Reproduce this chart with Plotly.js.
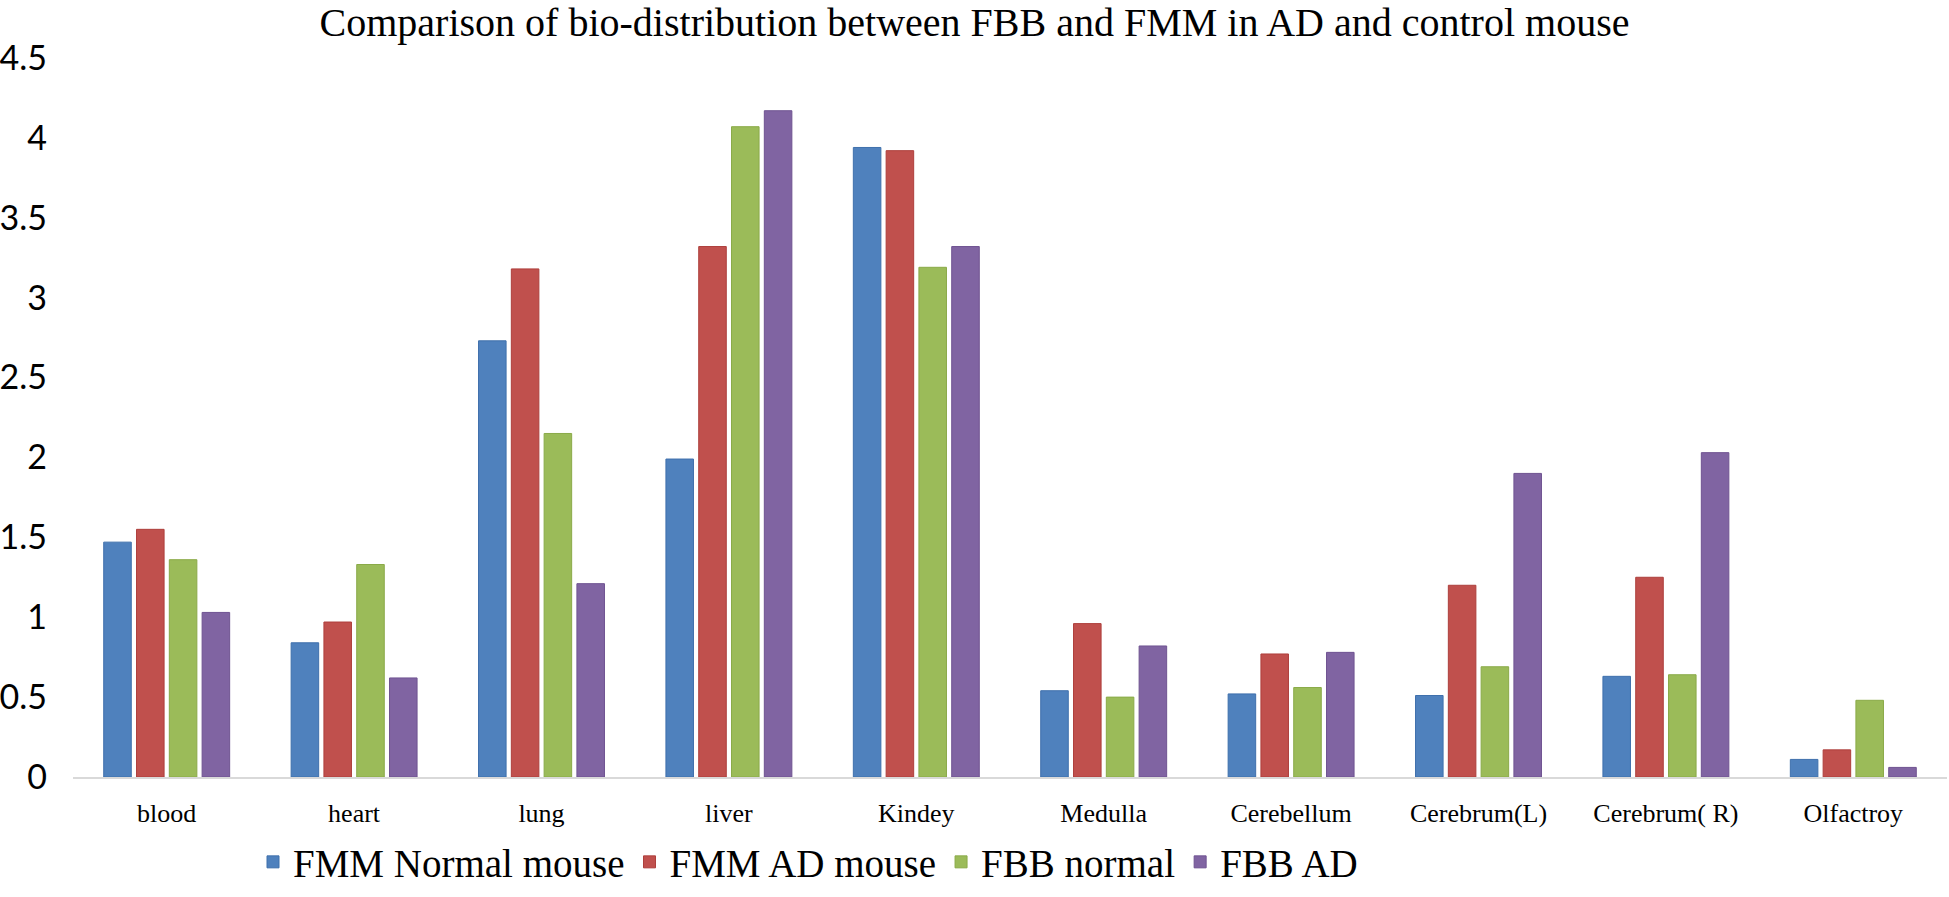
<!DOCTYPE html>
<html>
<head>
<meta charset="utf-8">
<script src="https://cdn.plot.ly/plotly-3.0.1.min.js"></script>
<style>html,body{margin:0;padding:0;background:#fff;}#chart{width:1949px;height:897px;}</style>
</head>
<body>
<div id="chart"></div>
<script>
const organs = ["blood", "heart", "lung", "liver", "Kindey", "Medulla", "Cerebellum", "Cerebrum(L)", "Cerebrum( R)", "Olfactroy"];
const fmmNormal = [1.47, 0.84, 2.73, 1.99, 3.94, 0.54, 0.52, 0.51, 0.63, 0.11];
const fmmAD     = [1.55, 0.97, 3.18, 3.32, 3.92, 0.96, 0.77, 1.20, 1.25, 0.17];
const fbbNormal = [1.36, 1.33, 2.15, 4.07, 3.19, 0.50, 0.56, 0.69, 0.64, 0.48];
const fbbAD     = [1.03, 0.62, 1.21, 4.17, 3.32, 0.82, 0.78, 1.90, 2.03, 0.06];
const seriesNames = ["FMM Normal mouse", "FMM AD mouse", "FBB normal", "FBB AD"];
const yTicks = [0, 0.5, 1, 1.5, 2, 2.5, 3, 3.5, 4, 4.5];
const yTickText = ["0", "0.5", "1", "1.5", "2", "2.5", "3", "3.5", "4", "4.5"];

const colors = ["#4F81BD", "#C0504D", "#9BBB59", "#8064A2"];
const lineColors = ["#3F70AC", "#AE3F3C", "#8AAA48", "#6F5391"];
const data = [fmmNormal, fmmAD, fbbNormal, fbbAD].map((vals, i) => ({
  type: "bar",
  name: seriesNames[i],
  x: organs,
  y: vals,
  marker: {color: colors[i], line: {color: lineColors[i], width: 1}}
}));

const layout = {
  width: 1949, height: 897,
  paper_bgcolor: "#ffffff", plot_bgcolor: "#ffffff",
  margin: {l: 73, r: 2, t: 58, b: 120},
  barmode: "group", bargap: 0.30, bargroupgap: 0.16,
  title: {text: "Comparison of bio-distribution between FBB and FMM in AD and control mouse",
          font: {family: "Liberation Serif, Times New Roman, serif", size: 40, color: "#000"},
          x: 0.5, xref: "container", xanchor: "center", y: 1 - 22/897, yref: "container", yanchor: "middle"},
  xaxis: {type: "category", showgrid: false, zeroline: false, showline: true, linecolor: "#D9D9D9", linewidth: 2,
          ticks: "", tickfont: {family: "Liberation Serif, Times New Roman, serif", size: 26, color: "#000"},
          ticklabelstandoff: 12, fixedrange: true},
  yaxis: {range: [0, 4.5], tickvals: yTicks, ticktext: yTickText, showgrid: false, zeroline: false, showline: false,
          ticks: "", tickfont: {family: "Lato, Open Sans, sans-serif", size: 34, color: "#000"},
          ticklabelstandoff: 25, fixedrange: true},
  showlegend: true,
  legend: {orientation: "h", xref: "container", yref: "container", x: 253/1949, xanchor: "left",
           y: (897-862)/897, yanchor: "middle", itemwidth: 30,
           font: {family: "Liberation Serif, Times New Roman, serif", size: 39, color: "#000"},
           bgcolor: "rgba(0,0,0,0)"}
};
Plotly.newPlot("chart", data, layout, {displayModeBar: false, staticPlot: true});
</script>
</body>
</html>
